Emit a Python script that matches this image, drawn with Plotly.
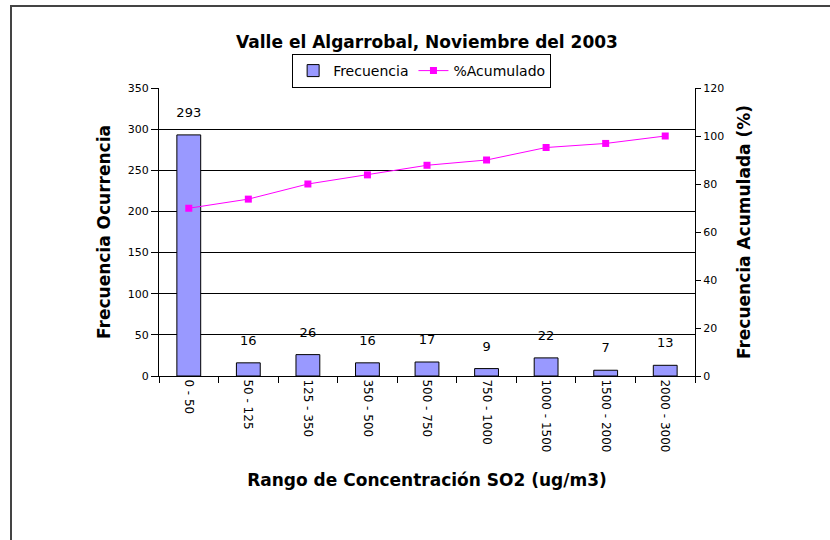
import plotly.graph_objects as go

# datos
rangos = ["0 - 50", "50 - 125", "125 - 350", "350 - 500", "500 - 750",
          "750 - 1000", "1000 - 1500", "1500 - 2000", "2000 - 3000"]
frecuencia = [293, 16, 26, 16, 17, 9, 22, 7, 13]
acumulado = [69.9, 73.7, 80.0, 83.8, 87.8, 90.0, 95.2, 96.9, 100.0]

FONT = "DejaVu Sans, Arial, sans-serif"

fig = go.Figure()

fig.add_trace(
    go.Bar(
        x=rangos,
        y=frecuencia,
        name="Frecuencia",
        marker=dict(color="#9999FF", line=dict(color="black", width=1)),
    )
)
# etiquetas de valor sobre las barras (marcador invisible para separarlas)
fig.add_trace(
    go.Scatter(
        x=rangos,
        y=frecuencia,
        mode="markers+text",
        text=[str(v) for v in frecuencia],
        textposition="top center",
        textfont=dict(size=13, color="black"),
        marker=dict(size=22, opacity=0),
        showlegend=False,
        hoverinfo="skip",
        cliponaxis=False,
    )
)
fig.add_trace(
    go.Scatter(
        x=rangos,
        y=acumulado,
        name="%Acumulado",
        mode="lines+markers",
        line=dict(color="#FF00FF", width=1),
        marker=dict(symbol="square", size=7, color="#FF00FF"),
        yaxis="y2",
    )
)

# marco exterior del gráfico
fig.add_shape(
    type="rect", xref="paper", yref="paper",
    x0=(11 - 159) / 536, x1=1.5, y0=-0.8, y1=(376 - 6) / 288,
    line=dict(color="#444444", width=2), layer="below",
)

fig.update_layout(
    width=830,
    height=540,
    margin=dict(l=159, r=135, t=88, b=164),
    paper_bgcolor="white",
    plot_bgcolor="white",
    font=dict(family=FONT, size=11, color="black"),
    bargap=0.6,
    showlegend=True,
    title=dict(
        text="<b>Valle el Algarrobal, Noviembre del 2003</b>",
        font=dict(size=17),
        x=0.5, xref="paper", xanchor="center",
        y=1 - 42 / 540, yanchor="middle",
    ),
    legend=dict(
        orientation="h",
        x=0.49, xanchor="center",
        y=1.0, yanchor="bottom",
        bgcolor="white",
        bordercolor="black",
        borderwidth=1,
        font=dict(size=14),
        itemwidth=30,
    ),
    xaxis=dict(
        title=dict(text="<b>Rango de Concentración SO2 (ug/m3)</b>",
                   font=dict(size=17), standoff=22),
        range=[-0.5, 8.5],
        tickangle=90,
        tickson="boundaries",
        ticks="outside",
        ticklen=6,
        tickcolor="black",
        showline=True,
        linecolor="black",
        showgrid=False,
        tickfont=dict(size=12),
        automargin=False,
    ),
    yaxis=dict(
        title=dict(text="<b>Frecuencia Ocurrencia</b>", font=dict(size=17), standoff=12),
        range=[0, 350],
        dtick=50,
        ticks="outside",
        ticklen=7,
        tickcolor="black",
        showline=True,
        linecolor="black",
        showgrid=True,
        gridcolor="black",
        gridwidth=1,
        zeroline=False,
        tickfont=dict(size=11),
        automargin=False,
    ),
    yaxis2=dict(
        title=dict(text="<b>Frecuencia Acumulada (%)</b>", font=dict(size=17), standoff=14),
        overlaying="y",
        side="right",
        range=[0, 120],
        dtick=20,
        ticks="outside",
        ticklen=5,
        tickcolor="black",
        showline=True,
        linecolor="black",
        showgrid=False,
        zeroline=False,
        tickfont=dict(size=11),
        automargin=False,
    ),
)

# sin margen del <body> para que el lienzo empiece en (0, 0)
fig.write_html(
    "out.html",
    config={"displayModeBar": False},
    post_script="document.body.style.margin='0';",
)
